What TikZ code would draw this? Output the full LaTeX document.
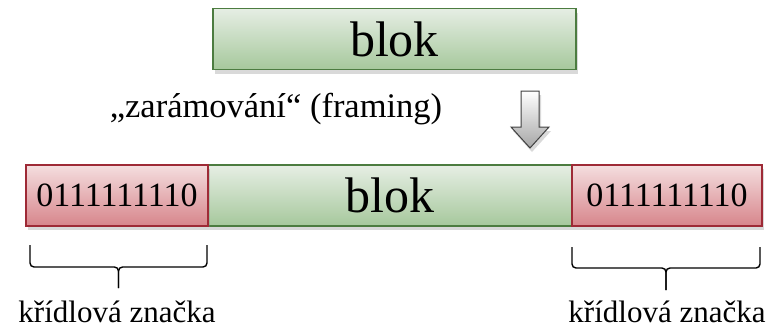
\documentclass[tikz,border=0pt]{standalone}
\usepackage{fontspec}
\setmainfont{Liberation Serif}
\usetikzlibrary{shadows}
\definecolor{gtop}{HTML}{E6EEE4}
\definecolor{gbot}{HTML}{A6C89C}
\definecolor{gline}{HTML}{4C7C40}
\definecolor{rtop}{HTML}{F4DEDF}
\definecolor{rbot}{HTML}{D7858B}
\definecolor{rline}{HTML}{9E2A36}
\tikzset{
  shad/.style={drop shadow={opacity=0.3,shadow xshift=2pt,shadow yshift=-4pt}},
  greenbox/.style={shad,draw=gline,line width=1.4pt,top color=gtop,bottom color=gbot,
    minimum height=61pt,inner sep=0pt,text=black},
  redbox/.style={shad,draw=rline,line width=1.4pt,top color=rtop,bottom color=rbot,
    minimum height=61pt,inner sep=0pt,text=black,font=\fontsize{34}{38}\selectfont},
  bracepath/.style={line width=1.4pt,rounded corners=4pt},
  lbl/.style={font=\fontsize{31}{36}\selectfont,anchor=base,inner sep=0pt}
}
\begin{document}
\begin{tikzpicture}[x=1pt,y=-1pt]
\useasboundingbox (0,0) rectangle (779,330);
\node[greenbox,minimum width=363pt,font=\fontsize{50}{56}\selectfont] (top) at (394.5,39) {blok};
\node[greenbox,minimum width=364pt,font=\fontsize{50}{56}\selectfont] (mid) at (390,195.5) {blok};
\node[redbox,minimum width=182pt] (lf) at (117,195.5) {0111111110};
\node[redbox,minimum width=190pt] (rf) at (667,195.5) {0111111110};
\node[lbl,font=\fontsize{34.5}{38}\selectfont] (fr) at (276,117) {„zarámování“ (framing)};
% arrow
\coordinate (a1) at (521,91);
\coordinate (a2) at (539,91);
\coordinate (a3) at (539,127);
\coordinate (a4) at (549,127);
\coordinate (a5) at (530,148);
\coordinate (a6) at (511,127);
\coordinate (a7) at (521,127);
\draw[shad,draw=black!75,line width=1pt,top color=white,bottom color=black!35,line join=miter]
  (a1) -- (a2) -- (a3) -- (a4) -- (a5) -- (a6) -- (a7) -- cycle;
% braces
\coordinate (lb1) at (30,245);
\coordinate (lb2) at (207,245);
\coordinate (lbt) at (118.5,288);
\draw[bracepath] (lb1) |- (lbt |- 0,267) -- (lbt);
\draw[bracepath] (lb2) |- (lbt |- 0,267) -- (lbt);
\coordinate (rb1) at (572,247);
\coordinate (rb2) at (760,247);
\coordinate (rbt) at (666,290);
\draw[bracepath] (rb1) |- (rbt |- 0,268) -- (rbt);
\draw[bracepath] (rb2) |- (rbt |- 0,268) -- (rbt);
\node[lbl] (ll) at (117,322) {křídlová značka};
\node[lbl] (rl) at (667,322) {křídlová značka};
\end{tikzpicture}
\end{document}
